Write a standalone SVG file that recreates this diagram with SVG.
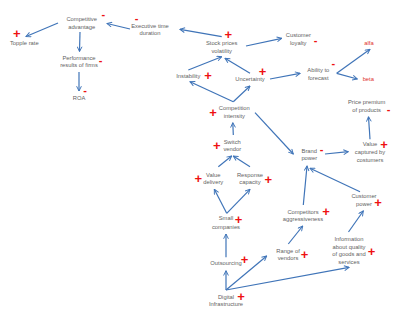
<svg xmlns="http://www.w3.org/2000/svg" width="400" height="310" viewBox="0 0 400 310">
<defs>
<marker id="ah" viewBox="0 0 10 10" refX="9" refY="5" markerWidth="6" markerHeight="6" orient="auto" markerUnits="userSpaceOnUse">
<path d="M1,1 L9,5 L1,9" fill="none" stroke="#3f74b8" stroke-width="1.6"/>
</marker>
<style>
text{font-family:"Liberation Sans",Arial,sans-serif;}
.l{font-size:5.8px;fill:#5f5f5f;text-anchor:middle;}
.r{font-size:5.8px;fill:#e0302a;text-anchor:middle;}
.p{font-size:13px;font-weight:bold;fill:#ee1111;text-anchor:middle;}
.m{font-size:11px;font-weight:bold;fill:#ee1111;text-anchor:middle;}
.c line{stroke:#3f74b8;stroke-width:1.2;marker-end:url(#ah);}
</style>
</defs>
<rect width="400" height="310" fill="#fff"/>
<g class="c">
<line x1="58" y1="23" x2="26" y2="36.5"/>
<line x1="80" y1="32" x2="79.5" y2="51.5"/>
<line x1="79" y1="72" x2="79" y2="91"/>
<line x1="130" y1="29" x2="107" y2="23.5"/>
<line x1="221.7" y1="36.7" x2="180" y2="29.3"/>
<line x1="246" y1="46" x2="281.7" y2="38.3"/>
<line x1="188.3" y1="70" x2="221.7" y2="56.7"/>
<line x1="250" y1="73.3" x2="225" y2="58.3"/>
<line x1="270" y1="79" x2="300" y2="73.3"/>
<line x1="336.7" y1="73.3" x2="370" y2="49.3"/>
<line x1="336.7" y1="73.3" x2="357.3" y2="79"/>
<line x1="233.3" y1="101.7" x2="190" y2="81.7"/>
<line x1="233.3" y1="101.7" x2="250" y2="86"/>
<line x1="255" y1="112.7" x2="293.3" y2="154"/>
<line x1="233.3" y1="135" x2="232.8" y2="122.7"/>
<line x1="218.3" y1="166.7" x2="231.7" y2="156"/>
<line x1="250" y1="166.7" x2="233.3" y2="156"/>
<line x1="325" y1="154" x2="348.3" y2="151.7"/>
<line x1="370" y1="139.3" x2="368.5" y2="116.7"/>
<line x1="226.7" y1="213.3" x2="214.3" y2="189.3"/>
<line x1="226.7" y1="213.3" x2="250" y2="189.3"/>
<line x1="303.3" y1="205" x2="307" y2="166"/>
<line x1="360" y1="191.7" x2="310" y2="168.3"/>
<line x1="348.5" y1="232" x2="363.3" y2="211"/>
<line x1="288.3" y1="244" x2="302.7" y2="226"/>
<line x1="226" y1="257.3" x2="226" y2="234"/>
<line x1="226" y1="290" x2="226" y2="270.7"/>
<line x1="226" y1="290" x2="266.7" y2="256"/>
<line x1="226" y1="290" x2="349" y2="267.3"/>
</g>
<g id="competitive-advantage"><text class="l" x="81.7" y="21">Competitive</text><text class="l" x="81.7" y="28.5">advantage</text><text class="m" x="103.3" y="18">-</text></g>
<g id="topple-rate"><text class="l" x="24.3" y="45.3">Topple rate</text><text class="p" x="16.7" y="37.5">+</text></g>
<g id="performance"><text class="l" x="79" y="59.7">Performance</text><text class="l" x="79" y="67.2">results of firms</text><text class="m" x="100.5" y="63.7">-</text></g>
<g id="roa"><text class="l" x="79" y="100.3">ROA</text><text class="m" x="85" y="93.7">-</text></g>
<g id="executive-time"><text class="l" x="150" y="27.7">Executive time</text><text class="l" x="150" y="35.3">duration</text><text class="m" x="136.7" y="22">-</text></g>
<g id="stock-prices"><text class="l" x="221.7" y="44.7">Stock prices</text><text class="l" x="221.7" y="52.7">volatility</text><text class="p" x="228.3" y="39.2">+</text></g>
<g id="customer-loyalty"><text class="l" x="298.3" y="37">Customer</text><text class="l" x="298.3" y="44.7">loyalty</text><text class="m" x="315.7" y="43.7">-</text></g>
<g id="alfa"><text class="r" x="369" y="44.7">alfa</text></g>
<g id="beta"><text class="r" x="368.3" y="81.3">beta</text></g>
<g id="ability-to-forecast"><text class="l" x="318.3" y="72">Ability to</text><text class="l" x="318.3" y="80.3">forecast</text><text class="m" x="333.3" y="67">-</text></g>
<g id="instability"><text class="l" x="188.3" y="78">Instability</text><text class="p" x="208" y="80.2">+</text></g>
<g id="uncertainty"><text class="l" x="250" y="81.3">Uncertainty</text><text class="p" x="262.5" y="76">+</text></g>
<g id="competition-intensity"><text class="l" x="234.3" y="110.3">Competition</text><text class="l" x="234.3" y="118">intensity</text><text class="p" x="213" y="116.9">+</text></g>
<g id="price-premium"><text class="l" x="366.7" y="104.3">Price premium</text><text class="l" x="366.7" y="112">of products</text><text class="m" x="388.5" y="112.7">-</text></g>
<g id="switch-vendor"><text class="l" x="232.3" y="143.7">Switch</text><text class="l" x="232.3" y="151.3">vendor</text><text class="p" x="216.7" y="150.2">+</text></g>
<g id="brand-power"><text class="l" x="309.3" y="153">Brand</text><text class="l" x="309.3" y="160.3">power</text><text class="m" x="321.7" y="152.7">-</text></g>
<g id="value-captured"><text class="l" x="370" y="146.3">Value</text><text class="l" x="370" y="154.3">captured by</text><text class="l" x="370" y="162">costumers</text><text class="p" x="384" y="148.5">+</text></g>
<g id="value-delivery"><text class="l" x="213.3" y="177">Value</text><text class="l" x="213.3" y="184.3">delivery</text><text class="p" x="198.3" y="182.5">+</text></g>
<g id="response-capacity"><text class="l" x="250" y="177">Response</text><text class="l" x="250" y="184.3">capacity</text><text class="p" x="268.3" y="183.5">+</text></g>
<g id="small-companies"><text class="l" x="226" y="220">Small</text><text class="l" x="226" y="228.7">companies</text><text class="p" x="238.5" y="224">+</text></g>
<g id="competitors-aggressiveness"><text class="l" x="303" y="213.7">Competitors</text><text class="l" x="303" y="221.3">aggressiveness</text><text class="p" x="326" y="216">+</text></g>
<g id="customer-power"><text class="l" x="364" y="198">Customer</text><text class="l" x="364" y="206">power</text><text class="p" x="378" y="206.5">+</text></g>
<g id="information"><text class="l" x="349" y="241.3">Information</text><text class="l" x="349" y="248.7">about quality</text><text class="l" x="349" y="256">of goods and</text><text class="l" x="349" y="263.7">services</text><text class="p" x="371.5" y="255.5">+</text></g>
<g id="range-of-vendors"><text class="l" x="288" y="252.7">Range of</text><text class="l" x="288" y="260.3">vendors</text><text class="p" x="304.5" y="258.9">+</text></g>
<g id="outsourcing"><text class="l" x="226" y="265.3">Outsourcing</text><text class="p" x="244.5" y="263.5">+</text></g>
<g id="digital-infrastructure"><text class="l" x="226" y="298.7">Digital</text><text class="l" x="226" y="306">Infrastructure</text><text class="p" x="241" y="300.5">+</text></g>
</svg>
